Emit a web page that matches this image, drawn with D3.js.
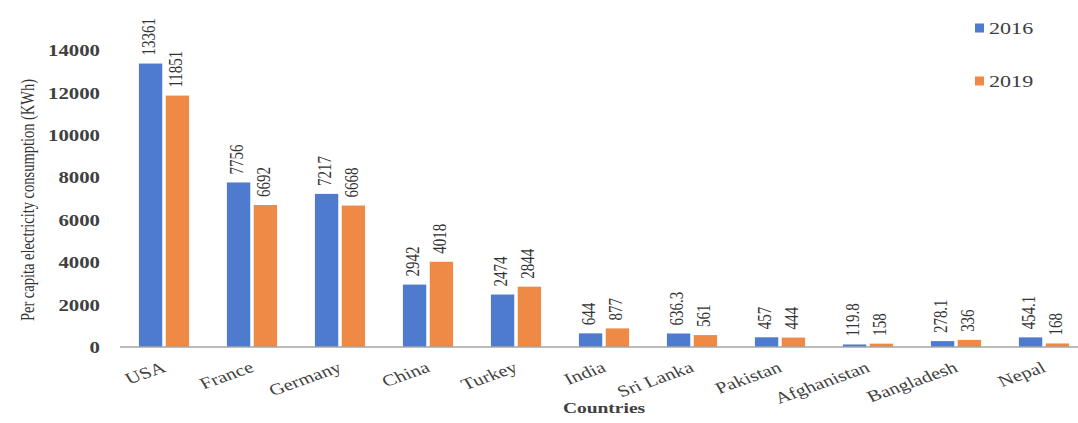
<!DOCTYPE html>
<html>
<head>
<meta charset="utf-8">
<script src="https://cdn.jsdelivr.net/npm/d3@7/dist/d3.min.js"></script>
<style>
  html, body { margin: 0; padding: 0; background: #fff; }
  svg { display: block; }
  text { font-family: "Liberation Serif", "Times New Roman", serif; }
</style>
</head>
<body>
<svg id="chart" width="1078" height="423"></svg>
<script>
// Per capita electricity consumption (KWh), by country and year
const countries = ["USA", "France", "Germany", "China", "Turkey", "India", "Sri Lanka", "Pakistan", "Afghanistan", "Bangladesh", "Nepal"];
const years = ["2016", "2019"];
const values2016 = [13361, 7756, 7217, 2942, 2474, 644, 636.3, 457, 119.8, 278.1, 454.1];
const values2019 = [11851, 6692, 6668, 4018, 2844, 877, 561, 444, 158, 336, 168];
const yTicks = [0, 2000, 4000, 6000, 8000, 10000, 12000, 14000];

const colors = { "2016": "#4f7bcf", "2019": "#ee8a45" };
const SX = 1.3; // horizontal widening applied to all type

const svg = d3.select("#chart");

const x0 = d3.scaleBand().domain(countries).range([120, 1088]).paddingInner(0.43).paddingOuter(0.215);
const x1 = d3.scaleBand().domain(years).range([0, x0.bandwidth()]).paddingInner(0.13);
const y = d3.scaleLinear().domain([0, 14000]).range([347, 50]);

const rows = countries.map((c, i) => ({
  country: c,
  vals: [
    { year: "2016", v: values2016[i] },
    { year: "2019", v: values2019[i] }
  ]
}));

// bars
const groups = svg.append("g").selectAll("g").data(rows).join("g")
  .attr("transform", d => `translate(${x0(d.country)},0)`);

groups.selectAll("rect").data(d => d.vals).join("rect")
  .attr("x", d => x1(d.year))
  .attr("y", d => y(d.v))
  .attr("width", x1.bandwidth())
  .attr("height", d => y(0) - y(d.v))
  .attr("fill", d => colors[d.year]);

// value labels, rotated above each bar
groups.selectAll("text.val").data(d => d.vals).join("text")
  .attr("class", "val")
  .attr("transform", d => `translate(${x1(d.year) + x1.bandwidth() / 2 - 2},${y(d.v) - 8}) scale(${SX},1) rotate(-90)`)
  .attr("dy", "0.35em")
  .attr("font-size", 15)
  .attr("fill", "#333")
  .text(d => String(d.v));

// baseline
svg.append("line")
  .attr("x1", 120).attr("x2", 1078)
  .attr("y1", y(0)).attr("y2", y(0))
  .attr("stroke", "#a6a6a6").attr("stroke-width", 1.5);

// y axis tick labels
const yAxis = d3.axisLeft(y).tickValues(yTicks).tickSize(0).tickFormat(d3.format("d"));
const yg = svg.append("g").attr("transform", "translate(100,0)").call(yAxis);
yg.select(".domain").remove();
yg.selectAll(".tick text")
  .attr("x", 0).attr("dy", null)
  .attr("dominant-baseline", "central")
  .attr("transform", `scale(${SX},1)`)
  .attr("font-family", "Liberation Serif, serif")
  .attr("font-size", 16)
  .attr("font-weight", "bold")
  .attr("fill", "#404040");

// x axis category labels
const xAxis = d3.axisBottom(x0).tickSize(0);
const xg = svg.append("g").attr("transform", `translate(0,${y(0)})`).call(xAxis);
xg.select(".domain").remove();
xg.selectAll(".tick text")
  .attr("x", null).attr("y", null).attr("dy", null)
  .attr("text-anchor", "end")
  .attr("transform", `translate(3,24) scale(${SX},1) rotate(-25)`)
  .attr("font-family", "Liberation Serif, serif")
  .attr("font-size", 16)
  .attr("fill", "#404040");

// axis titles
svg.append("text")
  .attr("transform", `translate(27,200) scale(${SX},1) rotate(-90)`)
  .attr("text-anchor", "middle")
  .attr("dy", "0.35em")
  .attr("font-size", 14.5)
  .attr("fill", "#333")
  .text("Per capita electricity consumption (KWh)");

svg.append("text")
  .attr("transform", `translate(604,413) scale(${SX},1)`)
  .attr("text-anchor", "middle")
  .attr("font-size", 15)
  .attr("font-weight", "bold")
  .attr("fill", "#404040")
  .text("Countries");

// legend
const legend = svg.append("g").selectAll("g").data(years).join("g")
  .attr("transform", (d, i) => `translate(975,${28 + i * 53})`);
legend.append("rect")
  .attr("x", 0).attr("y", -4.5).attr("width", 9).attr("height", 9)
  .attr("fill", d => colors[d]);
legend.append("text")
  .attr("transform", `translate(14,0) scale(${SX},1)`)
  .attr("dominant-baseline", "central")
  .attr("font-size", 17)
  .attr("fill", "#404040")
  .text(d => d);
</script>
</body>
</html>
